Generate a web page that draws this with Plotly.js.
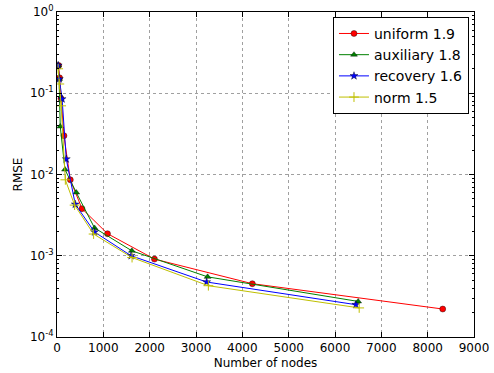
<!DOCTYPE html>
<html>
<head>
<meta charset="utf-8">
<script src="https://cdn.plot.ly/plotly-3.0.1.min.js"></script>
<style>html,body{margin:0;padding:0;background:#fff;}#chart{width:494px;height:373px;}</style>
</head>
<body>
<div id="chart"></div>
<script>
const seriesNames = ["uniform 1.9", "auxiliary 1.8", "recovery 1.6", "norm 1.5"];

const uniformX = [35, 56, 86, 150, 287, 539, 1090, 2103, 4216, 8325];
const uniformY = [0.22, 0.155, 0.086, 0.030, 0.0086, 0.0038, 0.00187, 0.00091, 0.000453, 0.000221];

const auxiliaryX = [25, 45, 70, 172, 416, 810, 1616, 3250, 6500];
const auxiliaryY = [0.22, 0.15, 0.039, 0.0115, 0.006, 0.0022, 0.00115, 0.00055, 0.000274];

const recoveryX = [25, 50, 110, 200, 394, 810, 1600, 3230, 6450];
const recoveryY = [0.22, 0.15, 0.085, 0.0155, 0.0043, 0.00196, 0.001, 0.000475, 0.00025];

const normX = [25, 50, 90, 180, 380, 790, 1620, 3267, 6522];
const normY = [0.2, 0.13, 0.07, 0.0086, 0.0042, 0.00185, 0.00095, 0.000428, 0.000228];

const xTicks = [0, 1000, 2000, 3000, 4000, 5000, 6000, 7000, 8000, 9000];
const yTickExps = [-4, -3, -2, -1, 0];

const styles = [
  {color: "#ff0000", symbol: "circle", size: 6},
  {color: "#008000", symbol: "triangle-up", size: 6},
  {color: "#0000ff", symbol: "star", size: 6},
  {color: "#bfbf00", symbol: "cross-thin", size: 7}
];
const xs = [uniformX, auxiliaryX, recoveryX, normX];
const ys = [uniformY, auxiliaryY, recoveryY, normY];

const traces = seriesNames.map((name, i) => ({
  type: "scatter",
  mode: "lines+markers",
  name: name,
  x: xs[i],
  y: ys[i],
  line: {color: styles[i].color, width: 1},
  marker: {
    symbol: styles[i].symbol,
    size: styles[i].size,
    color: styles[i].color,
    line: {color: i === 3 ? styles[i].color : "#000000", width: i === 3 ? 1 : 0.4}
  }
}));

const minorVals = [];
for (let e = -4; e < 0; e++) {
  for (let m = 2; m <= 9; m++) minorVals.push(m * Math.pow(10, e));
}

const font = {family: "DejaVu Sans, sans-serif", size: 12, color: "#000"};

const layout = {
  width: 494,
  height: 373,
  margin: {l: 57, r: 20, t: 12, b: 36},
  paper_bgcolor: "#fff",
  plot_bgcolor: "#fff",
  font: font,
  showlegend: true,
  legend: {
    x: 0.988, y: 0.985, xanchor: "right", yanchor: "top",
    bgcolor: "#fff", bordercolor: "#000", borderwidth: 1,
    font: {family: "DejaVu Sans, sans-serif", size: 14, color: "#000"},
    itemwidth: 30
  },
  xaxis: {
    range: [0, 9000],
    tickvals: xTicks,
    ticktext: xTicks.map(String),
    ticks: "inside", ticklen: 5, tickcolor: "#000",
    showline: true, linecolor: "#000", linewidth: 1, mirror: "ticks",
    showgrid: true, gridcolor: "#a0a0a0", griddash: "dot", gridwidth: 1,
    zeroline: false,
    title: {text: "Number of nodes", font: font, standoff: 4},
    tickfont: font
  },
  yaxis: {
    type: "log",
    range: [-4, 0],
    tickvals: yTickExps.map(e => Math.pow(10, e)),
    ticktext: yTickExps.map(e => "10<sup>" + e + "</sup>"),
    ticks: "inside", ticklen: 5, tickcolor: "#000",
    showline: true, linecolor: "#000", linewidth: 1, mirror: "ticks",
    showgrid: true, gridcolor: "#a0a0a0", griddash: "dot", gridwidth: 1,
    zeroline: false,
    minor: {tickvals: minorVals, ticks: "inside", ticklen: 2, tickcolor: "#000", showgrid: false},
    title: {text: "RMSE", font: font, standoff: 4},
    tickfont: font
  }
};

Plotly.newPlot("chart", traces, layout, {displayModeBar: false, staticPlot: true});
</script>
</body>
</html>
